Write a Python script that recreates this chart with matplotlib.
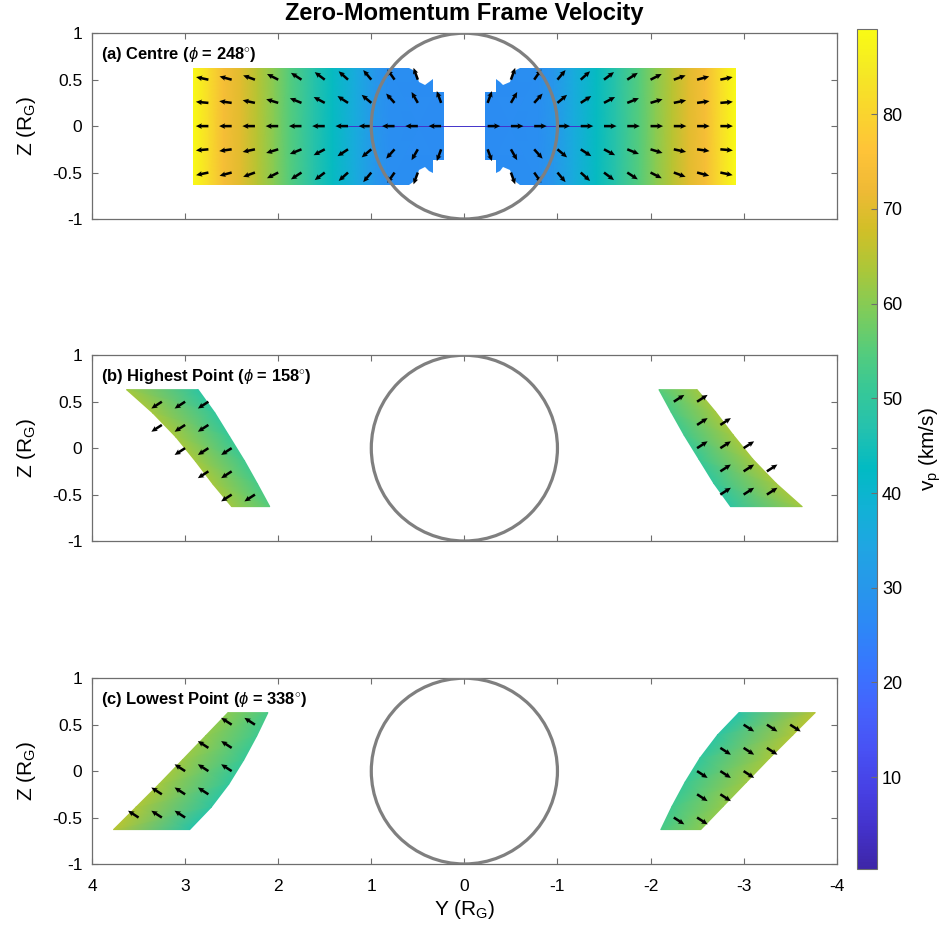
import numpy as np
import matplotlib
matplotlib.use('Agg')
import matplotlib.pyplot as plt
from matplotlib.colors import LinearSegmentedColormap, Normalize
from matplotlib.cm import ScalarMappable
from matplotlib.patches import Circle, Polygon

plt.rcParams['font.family'] = 'Liberation Sans'
plt.rcParams['mathtext.fontset'] = 'custom'
plt.rcParams['mathtext.rm'] = 'Liberation Sans'
plt.rcParams['mathtext.it'] = 'Liberation Sans:italic'
plt.rcParams['mathtext.bf'] = 'Liberation Sans:bold'
plt.rcParams['axes.unicode_minus'] = False

# MATLAB parula, every 3rd entry of the 64-colour table
parula = [
    (0.2422, 0.1504, 0.6603), (0.2647, 0.1978, 0.7952), (0.2783, 0.2559, 0.8991),
    (0.2810, 0.3228, 0.9579), (0.2699, 0.3892, 0.9906), (0.2206, 0.4603, 0.9973),
    (0.1786, 0.5289, 0.9682), (0.1540, 0.5902, 0.9218), (0.1248, 0.6459, 0.8883),
    (0.0689, 0.6948, 0.8394), (0.0067, 0.7312, 0.7660), (0.1408, 0.7584, 0.6842),
    (0.2161, 0.7843, 0.5923), (0.3406, 0.8008, 0.4789), (0.5044, 0.7993, 0.3480),
    (0.6720, 0.7793, 0.2227), (0.8203, 0.7498, 0.1535), (0.9393, 0.7288, 0.2100),
    (0.9970, 0.7659, 0.2199), (0.9786, 0.8386, 0.1766), (0.9597, 0.9135, 0.1423),
    (0.9769, 0.9839, 0.0805),
]
cmap = LinearSegmentedColormap.from_list('parula', parula)
vmin, vmax = 0.3, 89.0

# ---- (a) centre: speed against |Y| (same profile both sides)
a_abs_y = [0.18, 0.80, 0.96, 1.17, 1.42, 1.63, 1.88, 2.05, 2.23, 2.41, 2.59, 2.75, 2.92]
a_speed = [27, 28, 30, 36, 43, 48, 55, 60, 65, 70, 74, 82, 89]
a_half_z = 0.63
# outline of the ragged inner edge (upper half, |Y| and Z)
a_notch_y = [0.60, 0.55, 0.51, 0.49, 0.42, 0.38, 0.34, 0.34, 0.22]
a_notch_z = [0.63, 0.60, 0.54, 0.47, 0.44, 0.48, 0.51, 0.37, 0.37]

# arrows in (a): tails on a grid, angles (deg) from horizontal, inner -> outer
a_arrow_y = [0.25, 0.50, 0.75, 1.00, 1.25, 1.50, 1.75, 2.00, 2.25, 2.50, 2.75]
a_arrow_z = [0.5, 0.25, 0.0, -0.25, -0.5]
a_ang_05 = [np.nan, 70, 55, 50, 42, 37, 33, 27, 20, 15, 12]
a_ang_025 = [70, 60, 48, 40, 33, 28, 22, 17, 12, 8, 5]

# ---- (b) highest point: left band (right band is its point reflection)
b_z = [0.63, 0.38, 0.12, -0.14, -0.39, -0.63]
b_outer_y = [3.63, 3.35, 3.10, 2.89, 2.70, 2.50]
b_inner_y = [2.86, 2.68, 2.52, 2.36, 2.22, 2.09]
b_outer_v = [63, 63, 63, 63, 63, 62]
b_inner_v = [49, 50, 51, 52, 53, 55]
b_arrow_y = [3.25, 3.00, 2.75, 3.25, 3.00, 2.75, 3.00, 2.75, 2.50, 2.75, 2.50, 2.50, 2.25]
b_arrow_z = [0.5, 0.5, 0.5, 0.25, 0.25, 0.25, 0, 0, 0, -0.25, -0.25, -0.5, -0.5]
b_ang = -33   # down-left on the left band

# ---- (c) lowest point
c_z = [0.63, 0.38, 0.12, -0.14, -0.39, -0.63]
c_outer_y = [2.54, 2.78, 3.03, 3.28, 3.53, 3.77]
c_inner_y = [2.11, 2.23, 2.37, 2.53, 2.72, 2.95]
c_outer_v = [60, 61, 62, 63, 64, 65]
c_inner_v = [53, 52, 51, 50, 49, 48]
c_arrow_y = [2.50, 2.25, 2.75, 2.50, 3.00, 2.75, 2.50, 3.25, 3.00, 2.75, 3.50, 3.25, 3.00]
c_arrow_z = [0.5, 0.5, 0.25, 0.25, 0, 0, 0, -0.25, -0.25, -0.25, -0.5, -0.5, -0.5]
c_ang = 33    # up-left on the left band

xticks = [4, 3, 2, 1, 0, -1, -2, -3, -4]
xticklabels = ['4', '3', '2', '1', '0', '-1', '-2', '-3', '-4']
yticks = [-1, -0.5, 0, 0.5, 1]
yticklabels = ['-1', '-0.5', '0', '0.5', '1']
cbar_ticks = [10, 20, 30, 40, 50, 60, 70, 80]

panel_titles = [r'(a) Centre ($\phi$ = 248$^{\circ}$)',
                r'(b) Highest Point ($\phi$ = 158$^{\circ}$)',
                r'(c) Lowest Point ($\phi$ = 338$^{\circ}$)']

arrow_len = 0.135
edge = '#6e6e6e'

fig = plt.figure(figsize=(9.45, 9.31), dpi=100)
bottoms = [0.7648, 0.4189, 0.0720]
axes = [fig.add_axes([0.0974, b, 0.788, 0.1995]) for b in bottoms]

kw = dict(cmap=cmap, vmin=vmin, vmax=vmax, shading='gouraud', zorder=1)
qkw = dict(angles='xy', scale_units='xy', scale=1, pivot='tail', color='k',
           width=0.0034, headwidth=2.2, headlength=2.4, headaxislength=2.1, zorder=3)

# panel (a)
ax = axes[0]
up = list(zip(a_notch_y, a_notch_z))
outline = [(a_abs_y[-1], a_half_z)] + up + [(y, -z) for y, z in reversed(up)] \
    + [(a_abs_y[-1], -a_half_z)]
for side in (1, -1):
    X = side * np.array([a_abs_y, a_abs_y])
    Z = np.array([[-a_half_z] * len(a_abs_y), [a_half_z] * len(a_abs_y)])
    C = np.array([a_speed, a_speed])
    m = ax.pcolormesh(X, Z, C, **kw)
    clip = Polygon([(side * y, z) for y, z in outline], closed=True,
                   transform=ax.transData)
    m.set_clip_path(clip)
ax.plot([-1.3, 1.3], [0, 0], color=cmap(0.05), lw=0.7, zorder=2)
for side in (1, -1):
    for zr in a_arrow_z:
        if abs(zr) == 0.5:
            ang = np.array(a_ang_05)
        elif abs(zr) == 0.25:
            ang = np.array(a_ang_025)
        else:
            ang = np.zeros(len(a_arrow_y))
        ok = ~np.isnan(ang)
        th = np.radians(ang[ok])
        yy = side * np.array(a_arrow_y)[ok]
        u = side * arrow_len * np.cos(th)
        v = np.sign(zr) * arrow_len * np.sin(th)
        ax.quiver(yy, np.full(len(yy), zr), u, v, **qkw)

# panels (b) and (c): left band plus its point reflection
bands = [(axes[1], b_z, b_outer_y, b_inner_y, b_outer_v, b_inner_v, b_arrow_y, b_arrow_z, b_ang),
         (axes[2], c_z, c_outer_y, c_inner_y, c_outer_v, c_inner_v, c_arrow_y, c_arrow_z, c_ang)]
for ax, zz, oy, iy, ov, iv, ay, az, ang in bands:
    X = np.column_stack([oy, iy])
    Z = np.column_stack([zz, zz])
    C = np.column_stack([ov, iv])
    th = np.radians(ang)
    u = arrow_len * np.cos(th)
    v = arrow_len * np.sin(th)
    for s in (1, -1):
        ax.pcolormesh(s * X, s * Z, C, **kw)
        n = len(ay)
        ax.quiver(s * np.array(ay), s * np.array(az), np.full(n, s * u),
                  np.full(n, s * v), **qkw)

for i, ax in enumerate(axes):
    ax.add_patch(Circle((0, 0), 1, fill=False, ec='#7f7f7f', lw=2.3, zorder=4))
    ax.set_xlim(4, -4)
    ax.set_ylim(-1, 1)
    ax.set_xticks(xticks)
    ax.set_yticks(yticks)
    ax.set_yticklabels(yticklabels)
    if i == 2:
        ax.set_xticklabels(xticklabels)
        ax.set_xlabel(r'Y (R$_{\rm G}$)', fontsize=15, labelpad=3)
    else:
        ax.set_xticklabels([])
    ax.set_ylabel(r'Z (R$_{\rm G}$)', fontsize=15, labelpad=10)
    ax.tick_params(direction='in', top=True, right=True, length=4, width=0.8,
                   color=edge, labelsize=12.5)
    ax.tick_params(axis='x', pad=11)
    ax.tick_params(axis='y', pad=7)
    for sp in ax.spines.values():
        sp.set_color(edge)
        sp.set_linewidth(0.9)
    ax.text(0.012, 0.888, panel_titles[i], transform=ax.transAxes, fontsize=11.9,
            fontweight='bold', ha='left', va='center', zorder=5)

fig.text(0.4915, 0.985, 'Zero-Momentum Frame Velocity', ha='center', va='center',
         fontsize=17, fontweight='bold')

cax = fig.add_axes([0.9069, 0.0666, 0.0212, 0.9023])
sm = ScalarMappable(norm=Normalize(vmin, vmax), cmap=cmap)
cb = fig.colorbar(sm, cax=cax)
cb.set_ticks(cbar_ticks)
cb.set_ticklabels([str(t) for t in cbar_ticks])
cax.tick_params(direction='in', length=4, width=0.8, color=edge, labelsize=13)
cb.outline.set_edgecolor(edge)
cb.outline.set_linewidth(0.8)
cb.set_label(r'v$_{\rm p}$ (km/s)', fontsize=15, labelpad=11)

fig.savefig('out.png', dpi=100)
